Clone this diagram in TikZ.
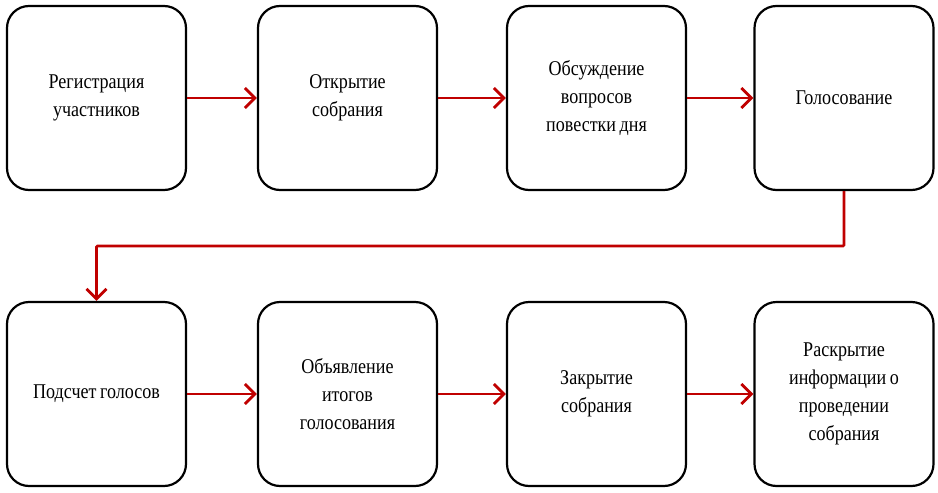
\documentclass[tikz,border=0pt]{standalone}
\usepackage{fontspec}
\setmainfont{Liberation Serif}[FakeStretch=0.86]
\usetikzlibrary{arrows.meta}
\definecolor{arrred}{HTML}{C00000}
\newcommand{\ws}{\hspace{0.17em}}
\tikzset{
  stepbox/.style={draw=black, line width=2.2pt, rounded corners=22pt, minimum width=179pt, minimum height=184pt, align=center, inner sep=2pt, font=\fontsize{21}{28}\selectfont, text width=165pt},
  arr/.style={draw=arrred, line width=2.8pt, -{Straight Barb[length=10pt,width=20pt,line width=2.8pt]}}
}
\begin{document}
\begin{tikzpicture}[x=1pt,y=-1pt]
\useasboundingbox (0,0) rectangle (938,493);
\node[stepbox] (n1) at (96.5,98) {Регистрация\\участников};
\node[stepbox] (n2) at (347.5,98) {Открытие\\собрания};
\node[stepbox] (n3) at (596.5,98) {Обсуждение\\вопросов\\повестки\ws дня};
\node[stepbox] (n4) at (844,98) {Голосование};
\node[stepbox] (n5) at (96.5,394) {Подсчет\ws голосов};
\node[stepbox] (n6) at (347.5,394) {Объявление\\итогов\\голосования};
\node[stepbox] (n7) at (596.5,394) {Закрытие\\собрания};
\node[stepbox] (n8) at (844,394) {Раскрытие\\информации\ws о\\проведении\\собрания};
\coordinate (bend) at (0,246);
\draw[arr] (n1) -- (n2);
\draw[arr] (n2) -- (n3);
\draw[arr] (n3) -- (n4);
\draw[arr, rounded corners=1pt] (n4.south) -- (n4.south |- bend) -| (n5.north);
\draw[arr] (n5) -- (n6);
\draw[arr] (n6) -- (n7);
\draw[arr] (n7) -- (n8);
\end{tikzpicture}
\end{document}
